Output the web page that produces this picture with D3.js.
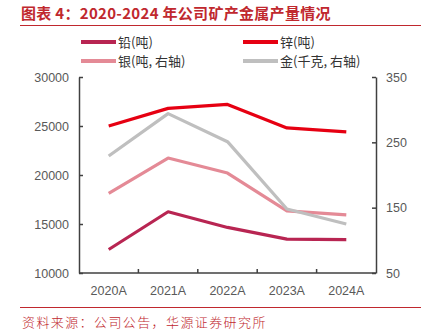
<!DOCTYPE html>
<html lang="zh">
<head>
  <meta charset="UTF-8">
  <title>矿产金属产量</title>
  <script src="https://cdn.jsdelivr.net/npm/d3@7"></script>
  <style>
    body { margin: 0; background: #fff; }
    text { font-family: "Noto Sans CJK SC", "Liberation Sans", Arial, sans-serif; }
  </style>
</head>
<body>
<div id="app"></div>
<script>
const years = ["2020A", "2021A", "2022A", "2023A", "2024A"];
const lead = [12400, 16250, 14650, 13450, 13400];   // 铅 吨
const zinc = [25000, 26800, 27200, 24800, 24400];   // 锌 吨
const silver = [172, 226, 203, 145, 139];           // 银 吨 右轴
const gold = [229, 294, 251, 148, 125];             // 金 千克 右轴
const leftTicks = [10000, 15000, 20000, 25000, 30000];
const rightTicks = [50, 150, 250, 350];

const width = 433, height = 336;
const margin = { top: 77, right: 57, bottom: 63, left: 79 };
const innerW = width - margin.left - margin.right;
const innerH = height - margin.top - margin.bottom;

const svg = d3.select("#app").append("svg")
  .attr("width", width)
  .attr("height", height);

// 标题与上下分隔线
svg.append("text")
  .attr("x", 21).attr("y", 19)
  .attr("fill", "#c0282e")
  .attr("font-size", 15).attr("font-weight", "bold")
  .attr("letter-spacing", 0.3)
  .text("图表 4：2020-2024 年公司矿产金属产量情况");
svg.append("line")
  .attr("x1", 20).attr("x2", 421).attr("y1", 25.5).attr("y2", 25.5)
  .attr("stroke", "#c0282e").attr("stroke-width", 1);
svg.append("line")
  .attr("x1", 20).attr("x2", 421).attr("y1", 307.5).attr("y2", 307.5)
  .attr("stroke", "#c0282e").attr("stroke-width", 1);
svg.append("text")
  .attr("x", 22).attr("y", 327)
  .attr("fill", "#c0282e")
  .attr("font-size", 13).attr("font-weight", 300)
  .attr("letter-spacing", 1.4)
  .text("资料来源：公司公告，华源证券研究所");

const x = d3.scaleBand().domain(years).range([0, innerW]);
const yL = d3.scaleLinear().domain([10000, 30000]).range([innerH, 0]);
const yR = d3.scaleLinear().domain([50, 350]).range([innerH, 0]);

const series = [
  { name: "铅(吨)", values: lead, scale: yL, color: "#b82552" },
  { name: "锌(吨)", values: zinc, scale: yL, color: "#e60012" },
  { name: "银(吨, 右轴)", values: silver, scale: yR, color: "#e48a96" },
  { name: "金(千克, 右轴)", values: gold, scale: yR, color: "#bfbfbf" }
];

const chart = svg.append("g")
  .attr("transform", `translate(${margin.left},${margin.top})`);

const axisColor = "#404040";
const labelColor = "#595959";

function styleAxis (g) {
  g.selectAll(".domain").attr("stroke", axisColor).attr("stroke-width", 1.5);
  g.selectAll(".tick line").attr("stroke", axisColor).attr("stroke-width", 1.5);
  g.selectAll(".tick text")
    .attr("fill", labelColor)
    .attr("font-size", 12.5)
    .style("font-family", "'Liberation Sans', Arial, sans-serif");
}

chart.append("g")
  .call(d3.axisLeft(yL).tickValues(leftTicks).tickSize(-4).tickSizeOuter(0).tickPadding(10).tickFormat(d3.format("d")))
  .call(styleAxis);

chart.append("g")
  .attr("transform", `translate(${innerW},0)`)
  .call(d3.axisRight(yR).tickValues(rightTicks).tickSize(-4).tickSizeOuter(0).tickPadding(10))
  .call(styleAxis);

// 分类轴：刻度放在类别边界上
const bounds = d3.range(years.length + 1).map(i => i * x.step());
const xAxisG = chart.append("g").attr("transform", `translate(0,${innerH})`);
xAxisG.append("line")
  .attr("x1", 0).attr("x2", innerW)
  .attr("stroke", axisColor).attr("stroke-width", 1.5);
xAxisG.selectAll("line.tick")
  .data(bounds.slice(1, -1))
  .enter().append("line")
  .attr("class", "tick")
  .attr("x1", d => d).attr("x2", d => d)
  .attr("y1", 0).attr("y2", -4)
  .attr("stroke", axisColor).attr("stroke-width", 1.5);
xAxisG.selectAll("text")
  .data(years)
  .enter().append("text")
  .attr("x", d => x(d) + x.bandwidth() / 2)
  .attr("y", 22)
  .attr("text-anchor", "middle")
  .attr("fill", labelColor)
  .attr("font-size", 12.5)
  .style("font-family", "'Liberation Sans', Arial, sans-serif")
  .text(d => d);

// 折线：右轴系列先画，压在下面
const drawOrder = [2, 3, 0, 1];
drawOrder.forEach(i => {
  const s = series[i];
  const line = d3.line()
    .x((d, j) => x(years[j]) + x.bandwidth() / 2)
    .y(d => s.scale(d));
  chart.append("path")
    .datum(s.values)
    .attr("d", line)
    .attr("fill", "none")
    .attr("stroke", s.color)
    .attr("stroke-width", 3.2)
    .attr("stroke-linejoin", "round");
});

// 图例
const legendPos = [[81, 42], [243, 42], [81, 61], [243, 61]];
const legend = svg.append("g");
series.forEach((s, i) => {
  const [lx, ly] = legendPos[i];
  legend.append("line")
    .attr("x1", lx).attr("x2", lx + 35)
    .attr("y1", ly).attr("y2", ly)
    .attr("stroke", s.color).attr("stroke-width", 4);
  legend.append("text")
    .attr("x", lx + 37).attr("y", ly + 4.5)
    .attr("fill", "#333")
    .attr("font-size", 13)
    .text(s.name);
});
</script>
</body>
</html>
